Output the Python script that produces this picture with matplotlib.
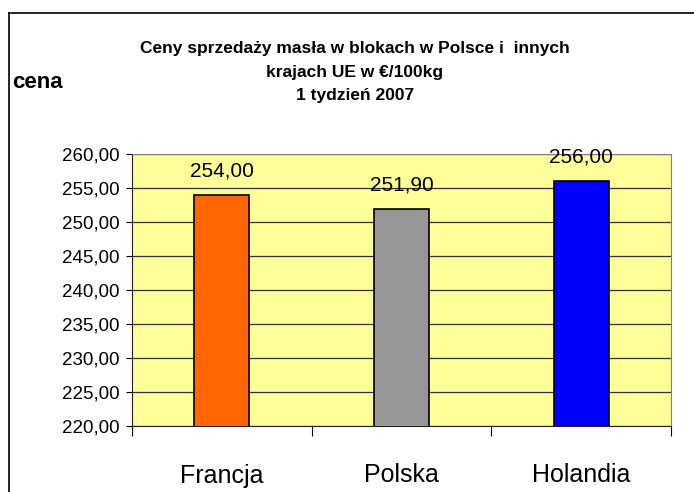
import matplotlib
matplotlib.use("Agg")
import matplotlib.pyplot as plt
import matplotlib.ticker as tick
from matplotlib.lines import Line2D
import numpy as np

plt.rcParams['font.family'] = ['Liberation Sans', 'DejaVu Sans']

countries = ["Francja", "Polska", "Holandia"]
prices = [254.00, 251.90, 256.00]
bar_colors = ["#FF6600", "#969696", "#0000FF"]
y_ticks = [220, 225, 230, 235, 240, 245, 250, 255, 260]
title = "Ceny sprzedaży masła w blokach w Polsce i  innych\nkrajach UE w €/100kg\n1 tydzień 2007"

W, H = 694, 492
fig = plt.figure(figsize=(W / 100, H / 100), dpi=100)
ax = fig.add_axes([132 / W, 1 - 426 / H, (671 - 132) / W, (426 - 154) / H])
ax.set_facecolor("#FFFF99")

x = np.arange(len(countries))
ax.bar(x, prices, width=0.305, color=bar_colors, edgecolor="black",
       linewidth=1.2, zorder=3)

for xi, v in zip(x, prices):
    ax.annotate(f"{v:.2f}".replace(".", ","), (xi, v), xytext=(0, 13.5),
                textcoords="offset points", ha="center", va="baseline",
                fontsize=15)

ax.set_ylim(220, 260)
ax.set_xlim(-0.5, len(countries) - 0.5)
ax.set_yticks(y_ticks)
ax.yaxis.set_major_formatter(tick.FuncFormatter(lambda v, p: f"{v:.2f}".replace(".", ",")))
ax.grid(axis="y", color="#333333", linewidth=0.9, zorder=1)

ax.set_xticks(x)
ax.set_xticklabels(countries, fontsize=18)
ax.set_xticks(np.arange(-0.5, len(countries)), minor=True)
ax.tick_params(axis="x", which="major", length=0, pad=27)
ax.tick_params(axis="x", which="minor", length=7, width=0.8, color="black")
ax.tick_params(axis="y", length=4, width=0.8, pad=5, labelsize=13.5)

for s in ["top", "right"]:
    ax.spines[s].set_color("#808080")
for s in ["left", "bottom"]:
    ax.spines[s].set_color("#222222")

fig.text(355 / W, 1 - 100 / H, title, ha="center", va="baseline",
         fontsize=12.5, fontweight="bold", linespacing=1.7)
fig.text(12 / W, 1 - 88 / H, "cena", ha="left", va="baseline",
         fontsize=16, fontweight="bold")

# outer chart border (runs off the right and bottom)
fig.add_artist(Line2D([9 / W, 9 / W], [0, 1 - 13 / H], color="black", lw=1.2))
fig.add_artist(Line2D([9 / W, 1], [1 - 13 / H, 1 - 13 / H], color="black", lw=1.2))

fig.savefig("out.png", dpi=100)
